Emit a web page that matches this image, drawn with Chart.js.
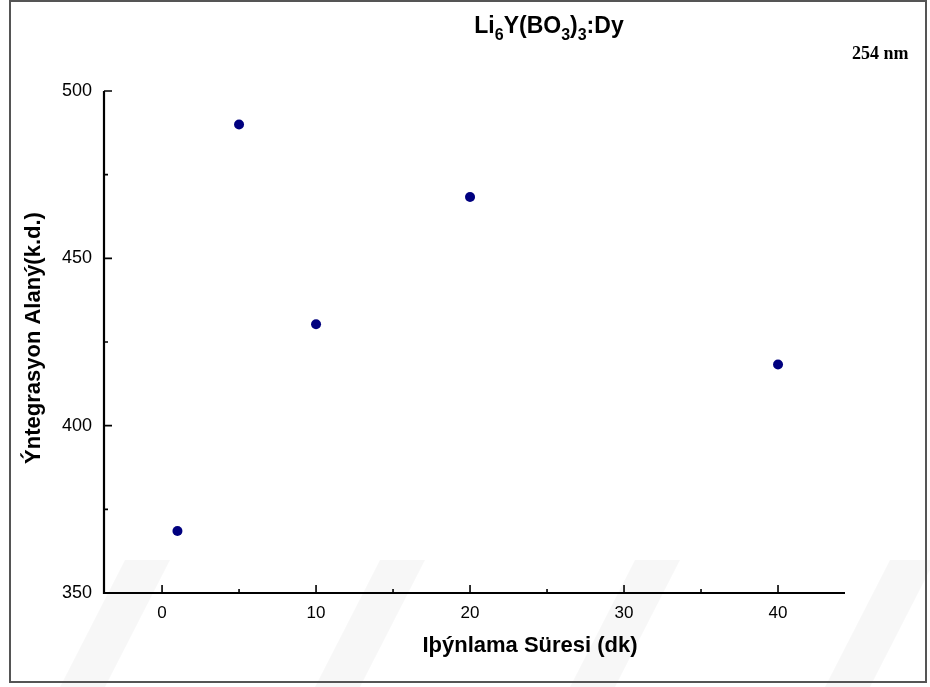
<!DOCTYPE html>
<html>
<head>
<meta charset="utf-8">
<title>Li6Y(BO3)3:Dy</title>
<script src="https://cdn.jsdelivr.net/npm/chart.js@4"></script>
<style>
  html, body { margin: 0; padding: 0; background: #fff; }
  #wrap { width: 930px; height: 687px; }
</style>
</head>
<body>
<div id="wrap"><canvas id="plot" width="930" height="687"></canvas></div>
<script>
// irradiation time (min) and integrated area (a.u.)
const times = [1, 5, 10, 20, 40];
const areas = [368.5, 490, 430.3, 468.3, 418.3];

const xTicks = [0, 10, 20, 30, 40];
const xMinor = [5, 15, 25, 35];
const yTicks = [350, 400, 450, 500];
const yMinor = [375, 425, 475];

const xLabel = 'Iþýnlama Süresi (dk)';
const yLabel = 'Ýntegrasyon Alaný(k.d.)';
const noteText = '254 nm';

// frame, faint background stripes, titles and inward axis ticks
const decor = {
  id: 'decor',
  beforeDraw(chart) {
    const c = chart.ctx;
    c.save();
    c.fillStyle = '#fff';
    c.fillRect(0, 0, chart.width, chart.height);
    c.fillStyle = 'rgba(0,0,0,0.03)';
    for (let i = 0; i < 5; i++) {
      const x0 = 60 + i * 255;
      c.beginPath();
      c.moveTo(x0, 687);
      c.lineTo(x0 + 45, 687);
      c.lineTo(x0 + 110, 560);
      c.lineTo(x0 + 65, 560);
      c.closePath();
      c.fill();
    }
    c.strokeStyle = '#555';
    c.lineWidth = 2;
    c.strokeRect(10, 1, 916, 681);
    c.restore();
  },
  afterDraw(chart) {
    const c = chart.ctx;
    const { left, right, top, bottom } = chart.chartArea;
    const xs = chart.scales.x, ys = chart.scales.y;
    c.save();
    c.strokeStyle = '#000';
    c.lineWidth = 2.2;
    c.beginPath();
    c.moveTo(left, top);
    c.lineTo(left, bottom);
    c.lineTo(right, bottom);
    c.stroke();
    c.lineWidth = 1.6;
    c.beginPath();
    xTicks.forEach(v => { const p = xs.getPixelForValue(v); c.moveTo(p, bottom); c.lineTo(p, bottom - 8); });
    xMinor.forEach(v => { const p = xs.getPixelForValue(v); c.moveTo(p, bottom); c.lineTo(p, bottom - 4); });
    yTicks.forEach(v => { const p = ys.getPixelForValue(v); c.moveTo(left, p); c.lineTo(left + 8, p); });
    yMinor.forEach(v => { const p = ys.getPixelForValue(v); c.moveTo(left, p); c.lineTo(left + 4, p); });
    c.stroke();

    c.fillStyle = '#000';
    // main title with subscripts
    const big = 'bold 23px "Liberation Sans", Arial, sans-serif';
    const sub = 'bold 16px "Liberation Sans", Arial, sans-serif';
    const parts = [['Li', 0], ['6', 1], ['Y(BO', 0], ['3', 1], [')', 0], ['3', 1], [':Dy', 0]];
    let w = 0;
    parts.forEach(([t, s]) => { c.font = s ? sub : big; w += c.measureText(t).width; });
    let x = 549 - w / 2;
    c.textBaseline = 'alphabetic';
    c.textAlign = 'left';
    parts.forEach(([t, s]) => {
      c.font = s ? sub : big;
      c.fillText(t, x, s ? 40 : 33);
      x += c.measureText(t).width;
    });

    c.font = 'bold 18px "Liberation Serif", "Times New Roman", serif';
    c.fillText(noteText, 852, 59);

    c.font = 'bold 22px "Liberation Sans", Arial, sans-serif';
    c.textAlign = 'center';
    c.textBaseline = 'middle';
    c.fillText(xLabel, 530, 646);
    c.translate(34, 338);
    c.rotate(-Math.PI / 2);
    c.fillText(yLabel, 0, 0);
    c.restore();
  }
};

new Chart(document.getElementById('plot'), {
  type: 'scatter',
  data: {
    datasets: [{
      data: times.map((t, i) => ({ x: t, y: areas[i] })),
      backgroundColor: '#00007f',
      borderWidth: 0,
      pointRadius: 5,
      pointHoverRadius: 5
    }]
  },
  options: {
    responsive: false,
    animation: false,
    layout: { padding: { left: 0, top: 91, right: 85, bottom: 0 } },
    plugins: { legend: { display: false }, tooltip: { enabled: false } },
    scales: {
      x: {
        type: 'linear',
        min: -3.77,
        max: 44.35,
        afterBuildTicks: s => { s.ticks = xTicks.map(v => ({ value: v })); },
        afterFit: s => { s.height = 94; },
        grid: { display: false },
        border: { display: false },
        ticks: {
          padding: 2,
          color: '#000',
          font: { family: '"Liberation Sans", Arial, sans-serif', size: 17 }
        }
      },
      y: {
        type: 'linear',
        min: 350,
        max: 500,
        afterBuildTicks: s => { s.ticks = yTicks.map(v => ({ value: v })); },
        afterFit: s => { s.width = 104; },
        grid: { display: false },
        border: { display: false },
        ticks: {
          padding: 4,
          color: '#000',
          font: { family: '"Liberation Sans", Arial, sans-serif', size: 18 }
        }
      }
    }
  },
  plugins: [decor]
});
</script>
</body>
</html>
